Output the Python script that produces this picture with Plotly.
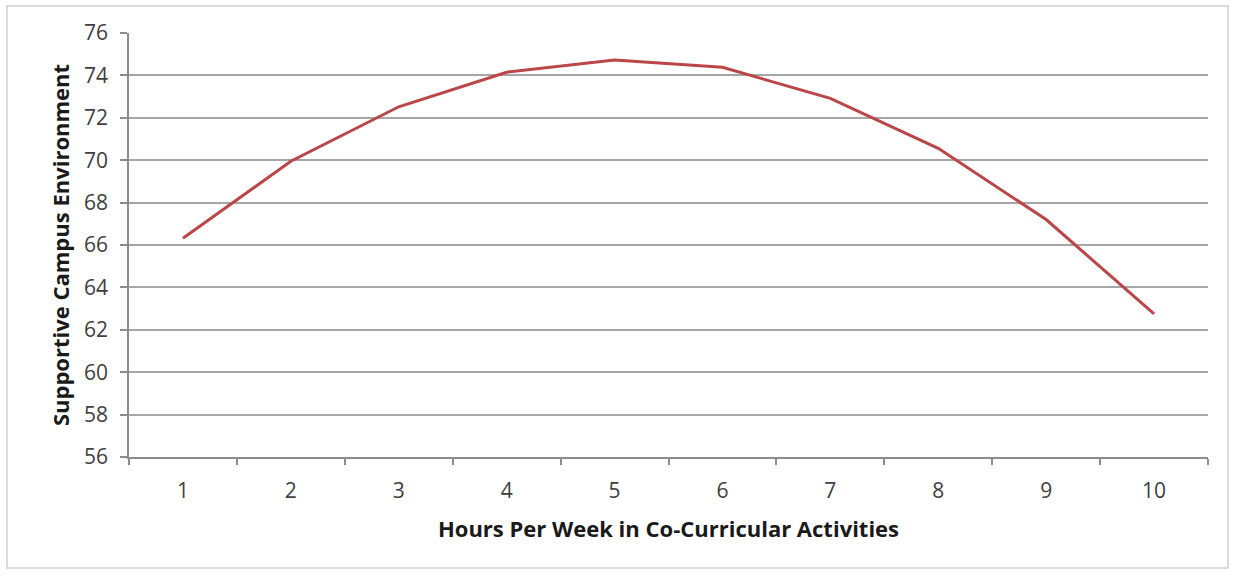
import plotly.graph_objects as go

# Hours per week spent in co-curricular activities (category axis)
hours = ["1", "2", "3", "4", "5", "6", "7", "8", "9", "10"]
# Mean "Supportive Campus Environment" score for each level
scores = [66.32, 69.95, 72.52, 74.15, 74.73, 74.38, 72.92, 70.56, 67.2, 62.75]

y_ticks = [56, 58, 60, 62, 64, 66, 68, 70, 72, 74, 76]

FONT = "'Open Sans', Lato, sans-serif"

fig = go.Figure()
fig.add_trace(go.Scatter(
    x=hours,
    y=scores,
    mode="lines",
    line=dict(color="#bb4648", width=3),
    hoverinfo="x+y",
))

L, R, T, B = 129, 26, 33, 119
W, H = 1234, 576
pw, ph = W - L - R, H - T - B

fig.update_layout(
    width=W,
    height=H,
    margin=dict(l=L, r=R, t=T, b=B),
    paper_bgcolor="white",
    plot_bgcolor="white",
    showlegend=False,
    font=dict(family=FONT, size=21, color="#404040"),
    shapes=[
        # thin frame around the whole chart
        dict(
            type="rect", xref="paper", yref="paper",
            x0=(7 - L) / pw, x1=(1228 - L) / pw,
            y0=(T + ph - 568) / ph, y1=(T + ph - 6) / ph,
            line=dict(color="#d0d0d0", width=1.5),
            fillcolor="rgba(0,0,0,0)",
            layer="below",
        )
    ],
)

fig.update_xaxes(
    type="category",
    range=[-0.5, len(hours) - 0.5],
    tickson="boundaries",
    ticks="outside",
    ticklen=6,
    tickwidth=1.5,
    tickcolor="#8c8c8c",
    showline=True,
    linecolor="#8c8c8c",
    linewidth=1.5,
    showgrid=False,
    zeroline=False,
    ticklabelstandoff=14,
    tickfont=dict(family=FONT, size=21, color="#404040"),
    title=dict(
        text="<b>Hours Per Week in Co-Curricular Activities</b>",
        font=dict(family=FONT, size=22, color="#1a1a1a"),
        standoff=19,
    ),
)

fig.update_yaxes(
    range=[56, 76],
    tickmode="array",
    tickvals=y_ticks,
    ticktext=[str(v) for v in y_ticks],
    ticks="outside",
    ticklen=7,
    tickwidth=1.5,
    tickcolor="#8c8c8c",
    showline=True,
    linecolor="#8c8c8c",
    linewidth=1.5,
    showgrid=True,
    gridcolor="#a6a6a6",
    gridwidth=1.5,
    zeroline=False,
    ticklabelstandoff=8,
    tickfont=dict(family=FONT, size=21, color="#404040"),
    title=dict(
        text="<b>Supportive Campus Environment</b>",
        font=dict(family=FONT, size=22, color="#1a1a1a"),
        standoff=8,
    ),
)

fig.write_html("out.html")
